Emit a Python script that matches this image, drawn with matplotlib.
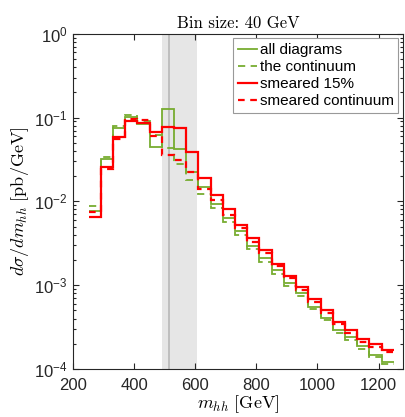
import numpy as np
import matplotlib
matplotlib.use('Agg')
import matplotlib.pyplot as plt
from matplotlib.ticker import LogLocator, NullFormatter, FixedLocator

plt.rcParams['font.family'] = ['Liberation Sans', 'DejaVu Sans']
plt.rcParams['mathtext.fontset'] = 'custom'
plt.rcParams['mathtext.rm'] = 'Liberation Sans'
plt.rcParams['mathtext.it'] = 'Liberation Sans:italic'

# bin edges (40 GeV bins)
edges = np.arange(250, 1251, 40)

all_diagrams = [0.0077, 0.032, 0.074, 0.102, 0.084, 0.045, 0.128, 0.042, 0.0226,
                0.0147, 0.0093, 0.0064, 0.0044, 0.0029, 0.0021, 0.0015, 0.00105,
                0.00080, 0.00055, 0.00041, 0.00029, 0.00024, 0.00019, 0.000148, 0.000122]
continuum = [0.0088, 0.0335, 0.079, 0.108, 0.090, 0.062, 0.043, 0.028, 0.018,
             0.0121, 0.0083, 0.0057, 0.0040, 0.0027, 0.0019, 0.00135, 0.00097,
             0.00075, 0.00052, 0.00038, 0.00027, 0.00022, 0.000175, 0.000138, 0.000115]
smeared = [0.0065, 0.026, 0.058, 0.091, 0.087, 0.067, 0.078, 0.074, 0.0385,
           0.0188, 0.0118, 0.0081, 0.0052, 0.0037, 0.0026, 0.0018, 0.0013,
           0.00096, 0.00068, 0.00050, 0.00036, 0.00029, 0.00023, 0.00020, 0.00017]
smeared_cont = [0.0074, 0.0243, 0.055, 0.095, 0.093, 0.060, 0.036, 0.031, 0.0226,
                0.0139, 0.0104, 0.0069, 0.0048, 0.0033, 0.0024, 0.0017, 0.00122,
                0.00088, 0.00063, 0.00046, 0.00034, 0.00027, 0.00021, 0.000185, 0.000158]

band = (490, 605)
mass_line = 512

green = (0.466, 0.674, 0.188)
red = (1, 0, 0)

fig = plt.figure(figsize=(4.06, 4.17), dpi=100)
ax = fig.add_axes([0.1805, 0.1151, 0.812, 0.8041])

ax.axvspan(band[0], band[1], color=(0.9, 0.9, 0.9), lw=0, zorder=0)
ax.axvline(mass_line, color=(0.72, 0.72, 0.72), lw=1.2, zorder=0.5)

ax.stairs(all_diagrams, edges, baseline=None, color=green, lw=1.3, label='all diagrams')
ax.stairs(continuum, edges, baseline=None, color=green, lw=1.3, ls=(0, (4, 3)),
          label='the continuum')
ax.stairs(smeared, edges, baseline=None, color=red, lw=1.6, label='smeared 15%')
ax.stairs(smeared_cont, edges, baseline=None, color=red, lw=1.6, ls=(0, (3, 2.5)),
          label='smeared continuum')

ax.set_yscale('log')
ax.set_xlim(200, 1280)
ax.set_ylim(1e-4, 1)
ax.xaxis.set_major_locator(FixedLocator([200, 400, 600, 800, 1000, 1200]))
ax.yaxis.set_major_locator(LogLocator(base=10, numticks=10))
ax.yaxis.set_minor_locator(LogLocator(base=10, subs=np.arange(2, 10), numticks=10))
ax.yaxis.set_minor_formatter(NullFormatter())
ax.tick_params(which='both', direction='in', top=True, right=True, labelsize=12,
               colors=(0.15, 0.15, 0.15), width=0.8)
ax.tick_params(which='major', length=4)
ax.tick_params(which='minor', length=2)
ax.tick_params(axis='x', pad=6.5)
ax.tick_params(axis='y', pad=4)
for s in ax.spines.values():
    s.set_color((0.15, 0.15, 0.15))
    s.set_linewidth(0.8)

ax.set_title('Bin size: 40 GeV', fontsize=12, fontfamily='cmr10', pad=4)
ax.set_xlabel(r'$m_{hh}\ [\mathrm{GeV}]$', fontsize=13, math_fontfamily='cm', labelpad=0)
ax.set_ylabel(r'$d\sigma/dm_{hh}\ [\mathrm{pb/GeV}]$', fontsize=13, math_fontfamily='cm', labelpad=2)

leg = ax.legend(loc='upper right', fontsize=11, handlelength=1.3, handletextpad=0.15,
                labelspacing=0.2, borderpad=0.3, borderaxespad=0.3, fancybox=False,
                framealpha=1, edgecolor=(0.6, 0.6, 0.6))
leg.get_frame().set_linewidth(0.8)

fig.savefig('out.png', dpi=100)
